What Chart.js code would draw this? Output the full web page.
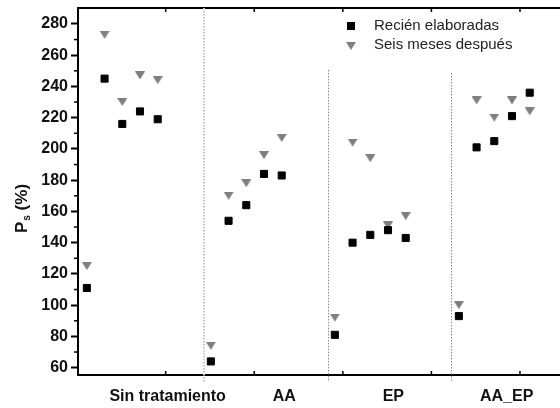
<!DOCTYPE html>
<html>
<head>
<meta charset="utf-8">
<script src="https://cdn.jsdelivr.net/npm/chart.js@4.4.1/dist/chart.umd.min.js"></script>
<style>
  html, body { margin: 0; padding: 0; background: #fff; overflow: hidden; }
  #wrap { width: 580px; height: 408px; }
</style>
</head>
<body>
<div id="wrap"><canvas id="c" width="580" height="408"></canvas></div>
<script>
// Treatment groups and where their names sit along the x axis
const categories = ['Sin tratamiento', 'AA', 'EP', 'AA_EP'];
const categoryLabelAt = [5.56, 12.15, 18.3, 24.7];

// Five samples per treatment
const samplePos = [1, 2, 3, 4, 5, 8, 9, 10, 11, 12, 15, 16, 17, 18, 19, 22, 23, 24, 25, 26];

// Ps (%) for freshly made samples and six months later
const recienElaboradas = [111, 245, 216, 224, 219, 64, 154, 164, 184, 183, 81, 140, 145, 148, 143, 93, 201, 205, 221, 236];
const seisMesesDespues = [125, 273, 230, 247, 244, 74, 170, 178, 196, 207, 92, 204, 194, 151, 157, 100, 231, 220, 231, 224];

// Axis ticks
const yTicks = [60, 80, 100, 120, 140, 160, 180, 200, 220, 240, 260, 280];
const yMinorTicks = [70, 90, 110, 130, 150, 170, 190, 210, 230, 250, 270];
const xTickMarks = [5.45, 10.45, 15.45, 20.45, 25.45];

// Dotted dividers between treatment groups (x position, top value)
const dividers = [
  { x: 7.6, top: 290.2, color: '#c4c4c4', width: 2 },
  { x: 14.6, top: 250.6, color: '#8a8a8a', width: 1 },
  { x: 21.55, top: 248.6, color: '#8a8a8a', width: 1 }
];

const GRAY = '#7f7f7f';
const FONT = '"Liberation Sans", Arial, Helvetica, sans-serif';

function downTriangle(w, h, color) {
  const c = document.createElement('canvas');
  c.width = w; c.height = h;
  const g = c.getContext('2d');
  g.fillStyle = color;
  g.beginPath();
  g.moveTo(0, 0);
  g.lineTo(w, 0);
  g.lineTo(w / 2, h);
  g.closePath();
  g.fill();
  return c;
}
const triImg = downTriangle(10, 8, GRAY);

const decor = {
  id: 'decor',
  beforeDatasetsDraw(chart) {
    const { ctx, chartArea, scales } = chart;
    ctx.save();
    dividers.forEach(d => {
      const x = Math.round(scales.x.getPixelForValue(d.x)) + (d.width === 1 ? 0.5 : 0);
      const y0 = scales.y.getPixelForValue(d.top);
      ctx.strokeStyle = d.color;
      ctx.lineWidth = d.width;
      ctx.setLineDash([1.5, 1.5]);
      ctx.beginPath();
      ctx.moveTo(x, y0);
      ctx.lineTo(x, chartArea.bottom + 7);
      ctx.stroke();
    });
    ctx.restore();
  },
  afterDraw(chart) {
    const { ctx, chartArea, scales } = chart;
    ctx.save();
    ctx.strokeStyle = '#000';
    // minor ticks on the value axis
    ctx.lineWidth = 1.5;
    yMinorTicks.forEach(v => {
      const y = scales.y.getPixelForValue(v);
      ctx.beginPath();
      ctx.moveTo(chartArea.left - 4, y);
      ctx.lineTo(chartArea.left, y);
      ctx.stroke();
    });
    // inward tick marks on top and bottom frame
    xTickMarks.forEach(v => {
      const x = scales.x.getPixelForValue(v);
      ctx.beginPath();
      ctx.moveTo(x, chartArea.bottom);
      ctx.lineTo(x, chartArea.bottom - 4);
      ctx.moveTo(x, chartArea.top);
      ctx.lineTo(x, chartArea.top + 4);
      ctx.stroke();
    });

    // legend
    ctx.fillStyle = '#000';
    ctx.fillRect(347, 22, 8, 8);
    ctx.drawImage(triImg, 346, 42);
    ctx.fillStyle = '#222';
    ctx.font = '15px ' + FONT;
    ctx.textBaseline = 'middle';
    ctx.textAlign = 'left';
    ctx.fillText('Recién elaboradas', 374, 26);
    ctx.fillText('Seis meses después', 374, 45);

    // value axis title: P with subscript s
    ctx.translate(27, 233);
    ctx.rotate(-Math.PI / 2);
    ctx.textBaseline = 'alphabetic';
    ctx.fillStyle = '#111';
    ctx.font = 'bold 17px ' + FONT;
    ctx.fillText('P', 0, 0);
    let w = ctx.measureText('P').width;
    ctx.font = 'bold 10px ' + FONT;
    ctx.fillText('s', w + 1, 3);
    w += 1 + ctx.measureText('s').width;
    ctx.font = 'bold 17px ' + FONT;
    ctx.fillText(' (%)', w, 0);
    ctx.restore();
  }
};

function noPad(s) {
  s.paddingTop = 0; s.paddingBottom = 0; s.paddingLeft = 0; s.paddingRight = 0;
}

new Chart(document.getElementById('c'), {
  type: 'scatter',
  data: {
    datasets: [
      {
        label: 'Recién elaboradas',
        data: samplePos.map((x, i) => ({ x, y: recienElaboradas[i] })),
        pointStyle: 'rect',
        pointRadius: 5,
        pointBorderWidth: 1,
        backgroundColor: '#000',
        borderColor: '#000'
      },
      {
        label: 'Seis meses después',
        data: samplePos.map((x, i) => ({ x, y: seisMesesDespues[i] })),
        pointStyle: triImg,
        backgroundColor: GRAY,
        borderColor: GRAY
      }
    ]
  },
  options: {
    responsive: false,
    animation: false,
    devicePixelRatio: 1,
    events: [],
    layout: { padding: 0 },
    plugins: { legend: { display: false }, tooltip: { enabled: false } },
    scales: {
      x: {
        type: 'linear',
        position: 'bottom',
        min: 0.5,
        max: 28.5,
        afterBuildTicks: s => { s.ticks = categoryLabelAt.map(v => ({ value: v })); },
        afterFit: s => { s.height = 33; noPad(s); },
        ticks: {
          autoSkip: false,
          maxRotation: 0,
          padding: 12,
          color: '#111',
          font: { family: FONT, size: 16, weight: 'bold' },
          callback: (v, i) => categories[i]
        },
        grid: { display: false, drawTicks: false },
        border: { display: true, color: '#000', width: 2 }
      },
      xTop: {
        type: 'linear',
        position: 'top',
        min: 0.5,
        max: 28.5,
        afterFit: s => { s.height = 8; noPad(s); },
        ticks: { display: false },
        grid: { display: false, drawTicks: false },
        border: { display: true, color: '#000', width: 2 }
      },
      y: {
        type: 'linear',
        position: 'left',
        min: 55.3,
        max: 290.2,
        afterBuildTicks: s => { s.ticks = yTicks.map(v => ({ value: v })); },
        afterFit: s => { s.width = 78; noPad(s); },
        ticks: {
          padding: 3,
          color: '#111',
          font: { family: FONT, size: 16, weight: 'bold' }
        },
        grid: { drawOnChartArea: false, tickLength: 7, tickWidth: 2, tickColor: '#000' },
        border: { display: true, color: '#000', width: 2 }
      }
    }
  },
  plugins: [decor]
});
</script>
</body>
</html>
